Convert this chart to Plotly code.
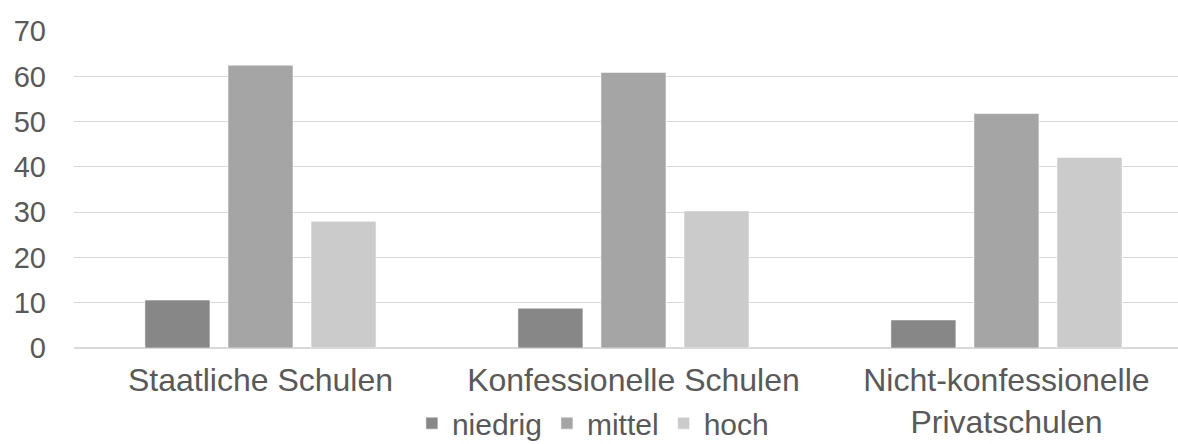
import plotly.graph_objects as go

# Schools by type, share of students per level (in %)
categories = ["Staatliche Schulen", "Konfessionelle Schulen", "Nicht-konfessionelle<br>Privatschulen"]
series_names = ["niedrig", "mittel", "hoch"]
niedrig = [10.6, 8.8, 6.2]
mittel = [62.5, 60.9, 51.8]
hoch = [28.0, 30.3, 42.1]
y_ticks = [0, 10, 20, 30, 40, 50, 60, 70]

colors = ["#878787", "#a5a5a5", "#cbcbcb"]
font_family = "Liberation Sans, Arial, sans-serif"
text_color = "#595959"

fig = go.Figure()
for name, vals, col in zip(series_names, [niedrig, mittel, hoch], colors):
    fig.add_trace(go.Bar(
        x=categories, y=vals, name=name,
        marker=dict(color=col, line=dict(color="rgba(255,255,255,0.55)", width=1)),
    ))

fig.update_layout(
    width=1178, height=444,
    margin=dict(l=74, r=0, t=31, b=96, autoexpand=False),
    paper_bgcolor="white", plot_bgcolor="white",
    barmode="group", bargap=0.332, bargroupgap=0.217,
    font=dict(family=font_family, color=text_color, size=30),
    showlegend=True,
    legend=dict(
        orientation="h", x=0.47, xanchor="center", y=-0.155, yanchor="top",
        font=dict(size=30, color=text_color), itemwidth=30,
        bgcolor="rgba(0,0,0,0)", traceorder="normal",
    ),
)
fig.update_xaxes(
    range=[-0.5, 2.46], showgrid=False, showline=False, zeroline=False,
    ticks="", tickfont=dict(size=32, color=text_color), ticklabelstandoff=10,
)
fig.update_yaxes(
    range=[0, 70.05], tickvals=y_ticks, showgrid=True, gridcolor="#d9d9d9", gridwidth=1.2,
    zeroline=True, zerolinecolor="#d9d9d9", zerolinewidth=1.5, showline=False,
    ticks="", tickfont=dict(size=29, color=text_color), ticklabelstandoff=27,
)

fig.write_html("out.html")
